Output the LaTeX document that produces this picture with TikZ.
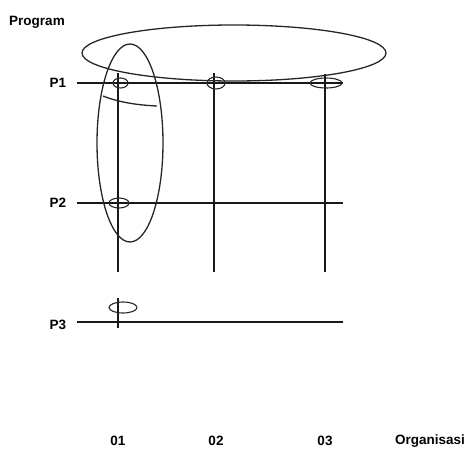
\documentclass[tikz,border=0pt]{standalone}
\usepackage{fontspec}
\setmainfont{Liberation Sans}
\usepackage{tikz}
\usetikzlibrary{positioning}
\tikzset{
  axislabel/.style={font=\bfseries\fontsize{13.5}{15}\selectfont,inner sep=0pt},
  gridline/.style={line width=1.5pt,black!90},
  ring/.style={line width=1.3pt,black!85},
  spot/.style={line width=1.1pt,black!85}
}

\begin{document}
\begin{tikzpicture}[x=1pt,y=-1pt]
  \useasboundingbox (0,0) rectangle (466,456);
  % labels
  \node[axislabel] (prog) at (37,22) {Program};
  \node[axislabel] (lp1) at (58,83) {P1};
  \node[axislabel] (lp2) at (58,203) {P2};
  \node[axislabel] (lp3) at (58,325) {P3};
  \node[axislabel] (o1) at (118,441) {01};
  \node[axislabel] (o2) at (216,441) {02};
  \node[axislabel] (o3) at (325,441) {03};
  \node[axislabel] (org) at (430,441) {Organisasi};
  % grid ends
  \coordinate (p1w) at (77,83);  \coordinate (p1e) at (343,83);
  \coordinate (p2w) at (77,203); \coordinate (p2e) at (343,203);
  \coordinate (p3w) at (77,322); \coordinate (p3e) at (343,322);
  \coordinate (v1n) at (118,73); \coordinate (v1s) at (118,272);
  \coordinate (v2n) at (214,73); \coordinate (v2s) at (214,272);
  \coordinate (v3n) at (325,74); \coordinate (v3s) at (325,272);
  \coordinate (t3n) at (118,298); \coordinate (t3s) at (118,328);
  % lines
  \draw[gridline] (p1w) -- (p1e);
  \draw[gridline] (p2w) -- (p2e);
  \draw[gridline] (p3w) -- (p3e);
  \draw[gridline] (v1n) -- (v1s);
  \draw[gridline] (v2n) -- (v2s);
  \draw[gridline] (v3n) -- (v3s);
  \draw[gridline] (t3n) -- (t3s);
  % big groupings
  \draw[ring] (234,53) ellipse [x radius=152pt, y radius=28pt];
  \draw[ring] (130,143) ellipse [x radius=33pt, y radius=99pt];
  \draw[ring] (103,96) .. controls (118,102) and (136,105) .. (157,106);
  % small marks
  \draw[spot] (120.5,83) ellipse [x radius=7.5pt, y radius=5pt];
  \draw[spot] (216,83) ellipse [x radius=9pt, y radius=6pt];
  \draw[spot] (326,83) ellipse [x radius=16pt, y radius=5pt];
  \draw[spot] (119,203) ellipse [x radius=10pt, y radius=5pt];
  \draw[spot] (123,307.5) ellipse [x radius=14pt, y radius=5.5pt];
\end{tikzpicture}
\end{document}
